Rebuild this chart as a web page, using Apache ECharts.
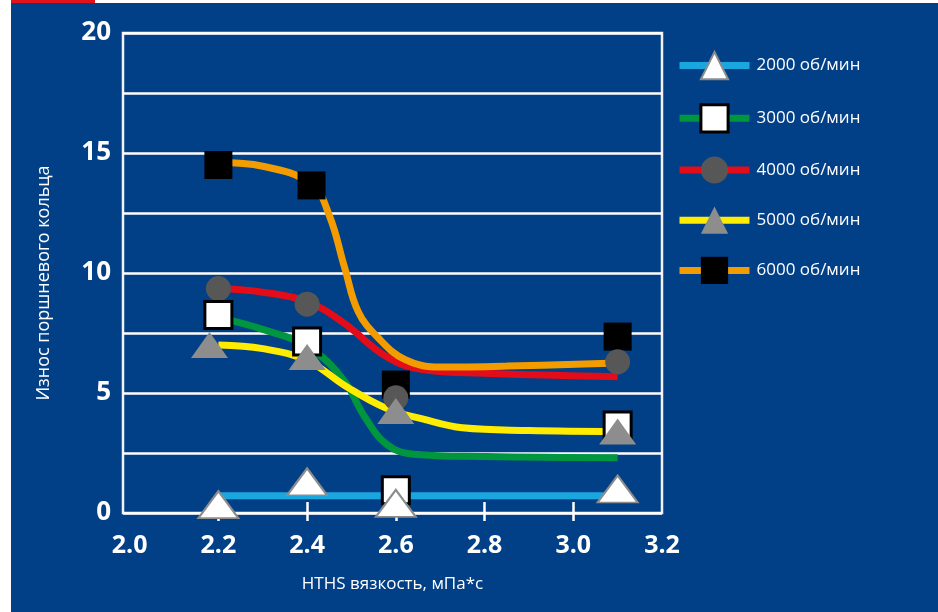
<!DOCTYPE html>
<html>
<head>
<meta charset="utf-8">
<script src="https://cdn.jsdelivr.net/npm/echarts@6/dist/echarts.min.js"></script>
<style>
  html, body { margin: 0; padding: 0; background: #fff; }
  #redbar { position: absolute; left: 11px; top: 0; width: 84px; height: 3px; background: #e2131b; }
  #main { position: absolute; left: 11px; top: 3px; width: 927px; height: 609px; background: #013f87; }
</style>
</head>
<body>
<div id="redbar"></div>
<div id="main"></div>
<script>
// legend names
const names = ['2000 об/мин', '3000 об/мин', '4000 об/мин', '5000 об/мин', '6000 об/мин'];
const lineColors = ['#1aa7e0', '#00953f', '#e30d19', '#ffec00', '#f39c00'];

// x tick labels / ticks
const xLabels = [2.0, 2.2, 2.4, 2.6, 2.8, 3.0, 3.2];
const xTicks = [2.2, 2.4, 2.6, 2.8, 3.0];

// smoothed trend curves [HTHS, wear]
const curve2000 = [[2.2, 0.72], [2.6, 0.72], [3.1, 0.72]];
const curve3000 = [[2.2, 8.15], [2.3, 7.65], [2.4, 6.95], [2.48, 5.6], [2.53, 4.0], [2.58, 2.85], [2.64, 2.45],
  [2.8, 2.35], [3.1, 2.3]];
const curve4000 = [[2.2, 9.35], [2.3, 9.2], [2.4, 8.8], [2.48, 7.95], [2.58, 6.5], [2.66, 5.98], [2.8, 5.82], [3.1, 5.68]];
const curve5000 = [[2.2, 7.0], [2.3, 6.85], [2.4, 6.35], [2.49, 5.25], [2.58, 4.35], [2.66, 3.92], [2.75, 3.55],
  [2.9, 3.44], [3.1, 3.4]];
const curve6000 = [[2.2, 14.6], [2.3, 14.45], [2.41, 13.7], [2.45, 12.4], [2.485, 10.2], [2.515, 8.4], [2.56, 7.3],
  [2.62, 6.4], [2.7, 6.08], [2.85, 6.12], [3.1, 6.25]];

// measured points
const points2000 = [[2.2, 0.35], [2.4, 1.3], [2.6, 0.4], [3.1, 1.0]];
const points3000 = [[2.2, 8.25], [2.4, 7.15], [2.6, 0.95], [3.1, 3.65]];
const points4000 = [[2.2, 9.35], [2.4, 8.7], [2.6, 4.8], [3.1, 6.3]];
const points5000 = [[2.18, 7.0], [2.4, 6.5], [2.6, 4.25], [3.1, 3.4]];
const points6000 = [[2.2, 14.5], [2.41, 13.65], [2.6, 5.35], [3.1, 7.35]];

const curves = [curve2000, curve3000, curve4000, curve5000, curve6000];
const points = [points2000, points3000, points4000, points5000, points6000];

// marker look per series
const markers = [
  { symbol: 'triangle', size: [40, 27], itemStyle: { color: '#ffffff', borderColor: '#8c8c8c', borderWidth: 2, opacity: 1 } },
  { symbol: 'rect', size: 27, itemStyle: { color: '#ffffff', borderColor: '#000000', borderWidth: 3, opacity: 1 } },
  { symbol: 'circle', size: 25, itemStyle: { color: '#575757', opacity: 1 } },
  { symbol: 'triangle', size: [37, 26], itemStyle: { color: '#8d8d8d', opacity: 1 } },
  { symbol: 'rect', size: 28, itemStyle: { color: '#000000', opacity: 1 } }
];
// draw order of the markers (bottom -> top)
const markerOrder = [4, 2, 1, 3, 0];

const font = 'Open Sans';
const chart = echarts.init(document.getElementById('main'));

const series = [];
curves.forEach(function (c, i) {
  series.push({
    name: names[i],
    type: 'line',
    data: c,
    smooth: 0.4,
    showSymbol: false,
    symbol: markers[i].symbol,
    symbolSize: markers[i].size,
    itemStyle: markers[i].itemStyle,
    lineStyle: { color: lineColors[i], width: 7 },
    z: 2,
    silent: true
  });
});
markerOrder.forEach(function (i, k) {
  series.push({
    name: names[i],
    type: 'scatter',
    data: points[i],
    symbol: markers[i].symbol,
    symbolSize: markers[i].size,
    itemStyle: markers[i].itemStyle,
    z: 3 + k,
    silent: true
  });
});

const option = {
  animation: false,
  textStyle: { fontFamily: font },
  grid: {
    left: 112, top: 30, right: 276, bottom: 99,
    show: true, borderColor: '#f2f2f2', borderWidth: 2.5
  },
  legend: {
    data: names,
    orient: 'vertical',
    left: 665,
    top: 48,
    padding: 0,
    itemWidth: 70,
    itemHeight: 34,
    itemGap: 23,
    selectedMode: false,
    lineStyle: { width: 7 },
    itemStyle: { borderWidth: 'inherit' },
    textStyle: { color: '#fff', fontSize: 17, fontFamily: font, padding: [0, 0, 0, 2] }
  },
  xAxis: [{
    type: 'value',
    min: 1.985,
    max: 3.2,
    name: 'HTHS вязкость, мПа*с',
    nameLocation: 'middle',
    nameGap: 63,
    nameTextStyle: { color: '#fff', fontSize: 17, fontFamily: font },
    axisLine: { show: false },
    splitLine: { show: false },
    axisTick: { show: true, length: 8, customValues: xTicks, lineStyle: { color: '#fff', width: 2.5 } },
    axisLabel: {
      customValues: xLabels,
      color: '#fff', fontSize: 25, fontWeight: 'bold', fontFamily: font, margin: 20,
      formatter: function (v) { return v.toFixed(1); }
    }
  }, {
    type: 'value',
    min: 1.985,
    max: 3.2,
    position: 'bottom',
    axisLine: { show: false },
    splitLine: { show: false },
    axisLabel: { show: false },
    axisTick: { show: true, inside: true, length: 11, customValues: xTicks, lineStyle: { color: '#fff', width: 2.5 } }
  }],
  yAxis: {
    type: 'value',
    min: 0,
    max: 20,
    interval: 2.5,
    name: 'Износ поршневого кольца',
    nameLocation: 'middle',
    nameGap: 70,
    nameTextStyle: { color: '#fff', fontSize: 18, fontFamily: font, padding: [0, 20, 0, 0] },
    axisLine: { show: false },
    axisTick: { show: false },
    splitLine: { show: true, lineStyle: { color: '#fff', width: 2.5 } },
    axisLabel: {
      color: '#fff', fontSize: 26, fontWeight: 'bold', fontFamily: font, margin: 12,
      formatter: function (v) { return v % 5 === 0 ? String(v) : ''; }
    }
  },
  series: series
};
chart.setOption(option);
</script>
</body>
</html>
